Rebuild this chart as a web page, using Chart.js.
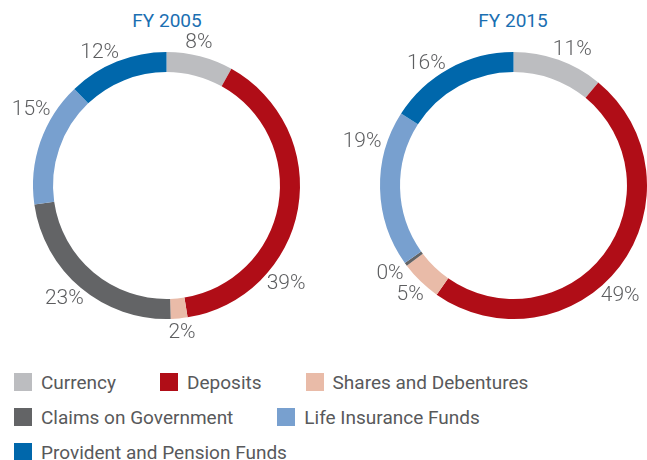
<!DOCTYPE html>
<html lang="en">
<head>
    <meta charset="UTF-8">
    <title>Household Financial Savings FY 2005 vs FY 2015</title>
    <style>
        body {
            margin: 0;
            padding: 0;
            background-color: #fff;
            font-family: Roboto, "DejaVu Sans", sans-serif;
        }
        .page {
            position: relative;
            width: 647px;
            height: 460px;
            overflow: hidden;
        }
        .chart-box {
            position: absolute;
            top: 0;
            height: 345px;
        }
        .title {
            position: absolute;
            top: 9px;
            font-size: 19px;
            font-weight: 400;
            color: #1b6fb2;
            text-align: center;
            width: 200px;
        }
        .legend {
            position: absolute;
            left: 14px;
            top: 373px;
            width: 560px;
            display: flex;
            flex-wrap: wrap;
            column-gap: 44px;
            row-gap: 17px;
        }
        .legend-item {
            display: flex;
            align-items: center;
            height: 18px;
            font-size: 19px;
            color: #58595b;
            white-space: nowrap;
        }
        .legend-item span {
            display: inline-block;
            width: 18px;
            height: 18px;
            margin-right: 9px;
        }
    </style>
    <script src="https://cdn.jsdelivr.net/npm/chart.js"></script>
</head>
<body>
<div class="page">
    <div class="title" style="left: 67px;">FY 2005</div>
    <div class="title" style="left: 413px;">FY 2015</div>
    <div class="chart-box" style="left: 0; width: 333px;"><canvas id="chart2005"></canvas></div>
    <div class="chart-box" style="left: 333px; width: 314px;"><canvas id="chart2015"></canvas></div>
    <div class="legend" id="legend"></div>
</div>
<script>
    const categories = ['Currency', 'Deposits', 'Shares and Debentures', 'Claims on Government', 'Life Insurance Funds', 'Provident and Pension Funds'];
    const colors = ['#bcbdc0', '#b00d17', '#e9bba8', '#636466', '#78a0cf', '#0067ab'];
    const fy2005 = [8, 39, 2, 23, 15, 12];
    const fy2015 = [11, 49, 5, 0.4, 19, 16];

    // where along each slice its % label sits (0 = start, 1 = end)
    const labelAt2005 = [0.42, 0.72, 0.45, 0.5, 0.73, 0.43];
    const labelAt2015 = [0.55, 0.56, 0.41, 0.5, 0.78, 0.42];

    const outsideLabels = {
        id: 'outsideLabels',
        afterDatasetsDraw(chart, args, opts) {
            const ctx = chart.ctx;
            const meta = chart.getDatasetMeta(0);
            const values = chart.data.datasets[0].data;
            ctx.save();
            ctx.font = '300 21px Roboto, "DejaVu Sans", sans-serif';
            ctx.fillStyle = '#5d5e60';
            ctx.textAlign = 'center';
            ctx.textBaseline = 'middle';
            meta.data.forEach((arc, i) => {
                const p = arc.getProps(['x', 'y', 'startAngle', 'endAngle', 'outerRadius'], true);
                const a = p.startAngle + opts.at[i] * (p.endAngle - p.startAngle);
                const r = p.outerRadius + 6;
                const text = Math.round(values[i]) + '%';
                const w = ctx.measureText(text).width;
                const h = 15;
                const cx = p.x + r * Math.cos(a) + (w / 2) * Math.cos(a);
                const cy = p.y + r * Math.sin(a) + (h / 2) * Math.sin(a);
                ctx.fillText(text, cx, cy + 1);
            });
            ctx.restore();
        }
    };

    function makeChart(id, values, at, padding) {
        new Chart(document.getElementById(id), {
            type: 'doughnut',
            data: {
                labels: categories,
                datasets: [{
                    data: values,
                    backgroundColor: colors,
                    borderWidth: 0,
                    hoverOffset: 0
                }]
            },
            options: {
                responsive: true,
                maintainAspectRatio: false,
                animation: false,
                cutout: '85%',
                layout: { padding: padding },
                plugins: {
                    legend: { display: false },
                    tooltip: { enabled: false },
                    outsideLabels: { at: at }
                }
            },
            plugins: [outsideLabels]
        });
    }

    makeChart('chart2005', fy2005, labelAt2005, { left: 33, right: 33, top: 52, bottom: 26 });
    makeChart('chart2015', fy2015, labelAt2015, { left: 47, right: 0, top: 52, bottom: 26 });

    const legend = document.getElementById('legend');
    categories.forEach((name, i) => {
        const item = document.createElement('div');
        item.className = 'legend-item';
        item.innerHTML = '<span style="background:' + colors[i] + '"></span>' + name;
        legend.appendChild(item);
    });
</script>
</body>
</html>
